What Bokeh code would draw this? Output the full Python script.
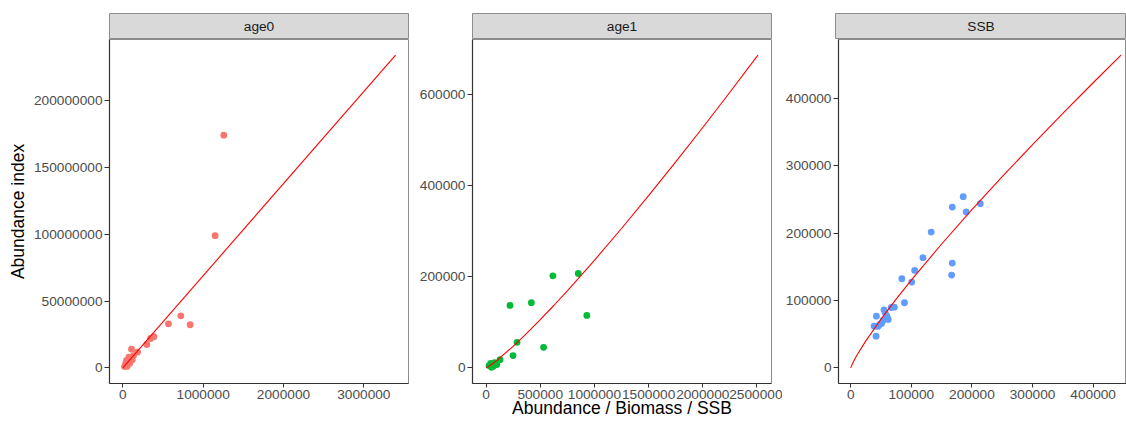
from bokeh.plotting import figure
from bokeh.layouts import column, row
from bokeh.models import Range1d, FixedTicker, NumeralTickFormatter
from bokeh.core.properties import value
from bokeh.embed import file_html
from bokeh.resources import INLINE

# ---------------- data ----------------
panel_names = ["age0", "age1", "SSB"]
point_colors = ["#F8766D", "#00BA38", "#619CFF"]
x_title = "Abundance / Biomass / SSB"
y_title = "Abundance index"

age0_x = [1257000, 1149000, 722000, 838000, 568000, 386000, 345000, 299000, 183000,
          108000, 75000, 46000, 117000, 34000, 87000, 55000, 21000, 133000]
age0_y = [174300000, 99000000, 39000000, 32300000, 33000000, 23300000, 22000000,
          17500000, 11800000, 14000000, 7950000, 5500000, 6000000, 3000000,
          3500000, 1200000, 1000000, 9200000]
age0_fit_x = [0, 3395000]
age0_fit_y = [0, 234300000]

age1_x = [617000, 851000, 221000, 418000, 930000, 286000, 531000, 249000, 129000,
          43000, 80000, 28000, 68000, 50000, 99000]
age1_y = [202000, 207000, 137000, 143000, 115000, 56000, 45000, 27000, 18000,
          10000, 11600, 5000, 3500, 1300, 7200]
age1_fit_x = [0, 50000, 100000, 250000, 375000, 500000, 625000, 750000, 1000000,
              1250000, 1500000, 1750000, 2000000, 2250000, 2509000]
age1_fit_y = [0, 7310, 16330, 47270, 75650, 105590, 136800, 169030, 235990,
              305710, 377750, 451680, 527340, 604560, 686000]

ssb_x = [185600, 167600, 190500, 213900, 132800, 119200, 105600, 100700, 84400, 88700,
         167600, 166500, 42400, 38600, 41900, 55000, 66900, 72000, 59900, 53400,
         48000, 45000, 57000, 51000, 62000]
ssb_y = [254300, 238900, 231500, 243900, 201700, 163600, 144700, 127400, 132400, 96700,
         155600, 137800, 76800, 62000, 47100, 86200, 89700, 90100, 76700, 70300,
         64400, 61500, 82000, 66000, 72000]
ssb_fit_x = [0, 5000, 10000, 25000, 50000, 75000, 100000, 150000, 200000, 250000,
             300000, 350000, 400000, 446000]
ssb_fit_y = [0, 10212, 18412, 40130, 72310, 102060, 130330, 183970, 234920, 283980,
             331610, 378020, 423450, 464500]

age0_xticks = [0, 1000000, 2000000, 3000000]
age0_yticks = [0, 50000000, 100000000, 150000000, 200000000]
age1_xticks = [0, 500000, 1000000, 1500000, 2000000, 2500000]
age1_yticks = [0, 200000, 400000, 600000]
ssb_xticks = [0, 100000, 200000, 300000, 400000]
ssb_yticks = [0, 100000, 200000, 300000, 400000]

# ---------------- layout / style ----------------
FONT = "Liberation Sans"
TICK_SIZE = "13.7px"
TITLE_SIZE = "17.5px"
FRAME_GRAY = "#8C8C8C"
AXIS_COL = "#333333"

panels = [
    dict(name=panel_names[0], color=point_colors[0], x=age0_x, y=age0_y,
         fx=age0_fit_x, fy=age0_fit_y, xr=(-166000, 3556000), yr=(-11715000, 246000000),
         xt=age0_xticks, yt=age0_yticks, bl=109, br=6, fw=299, ylab=y_title, xlab=None),
    dict(name=panel_names[1], color=point_colors[1], x=age1_x, y=age1_y,
         fx=age1_fit_x, fy=age1_fit_y, xr=(-125000, 2634000), yr=(-34300, 720300),
         xt=age1_xticks, yt=age1_yticks, bl=58, br=11, fw=299, ylab=None, xlab=x_title),
    dict(name=panel_names[2], color=point_colors[2], x=ssb_x, y=ssb_y,
         fx=ssb_fit_x, fy=ssb_fit_y, xr=(-20100, 455000), yr=(-23200, 487700),
         xt=ssb_xticks, yt=ssb_yticks, bl=53, br=0, fw=291, ylab=None, xlab=None),
]

STRIP_TOP = 13
STRIP_H = 26
FRAME_H = 344
BOTTOM = 38

strips = []
mains = []
for pn in panels:
    w = pn["bl"] + pn["fw"] + pn["br"]
    s = figure(width=w, height=STRIP_TOP + STRIP_H,
               min_border_left=pn["bl"], min_border_right=pn["br"],
               min_border_top=STRIP_TOP, min_border_bottom=0,
               x_range=Range1d(0, 1), y_range=Range1d(0, 1),
               x_axis_location=None, y_axis_location=None,
               output_backend="svg", toolbar_location=None, tools="")
    s.grid.visible = False
    s.background_fill_color = "#D9D9D9"
    s.border_fill_color = "white"
    s.outline_line_color = FRAME_GRAY
    s.outline_line_width = 1
    s.text(x=[0.5], y=[0.5], text=[pn["name"]], text_align="center",
           text_baseline="middle", text_font=value(FONT),
           text_font_size=value(TICK_SIZE), text_color="#1A1A1A")
    strips.append(s)

    p = figure(width=w, height=FRAME_H + BOTTOM,
               min_border_left=pn["bl"], min_border_right=pn["br"],
               min_border_top=0, min_border_bottom=BOTTOM,
               x_range=Range1d(*pn["xr"]), y_range=Range1d(*pn["yr"]),
               output_backend="svg", toolbar_location=None, tools="")
    p.grid.visible = False
    p.background_fill_color = "white"
    p.border_fill_color = "white"
    p.outline_line_color = FRAME_GRAY
    p.outline_line_width = 1

    p.scatter(pn["x"], pn["y"], size=6.8, fill_color=pn["color"], line_color=None)
    p.line(pn["fx"], pn["fy"], line_color="#FF0000", line_width=1.1)

    xa = p.xaxis[0]
    ya = p.yaxis[0]
    xa.ticker = FixedTicker(ticks=pn["xt"])
    ya.ticker = FixedTicker(ticks=pn["yt"])
    for ax in (xa, ya):
        ax.formatter = NumeralTickFormatter(format="0")
        ax.axis_line_color = AXIS_COL
        ax.axis_line_width = 1.2
        ax.major_tick_line_color = AXIS_COL
        ax.major_tick_line_width = 1
        ax.major_tick_in = 0
        ax.minor_tick_line_color = None
        ax.major_label_text_font = FONT
        ax.major_label_text_font_size = TICK_SIZE
        ax.major_label_text_color = "#4D4D4D"
        ax.axis_label_text_font = FONT
        ax.axis_label_text_font_size = TITLE_SIZE
        ax.axis_label_text_font_style = "normal"
        ax.axis_label_text_color = "black"
    xa.major_tick_out = 4
    xa.major_label_standoff = 2
    ya.major_tick_out = 5
    ya.major_label_standoff = 2
    if pn["ylab"]:
        ya.axis_label = pn["ylab"]
        ya.axis_label_standoff = 3
    if pn["xlab"]:
        xa.axis_label = pn["xlab"]
        xa.axis_label_standoff = -4
    mains.append(p)

layout = column(row(*strips, spacing=0), row(*mains, spacing=0), spacing=0)

open("out.html", "w").write(file_html(layout, INLINE))
